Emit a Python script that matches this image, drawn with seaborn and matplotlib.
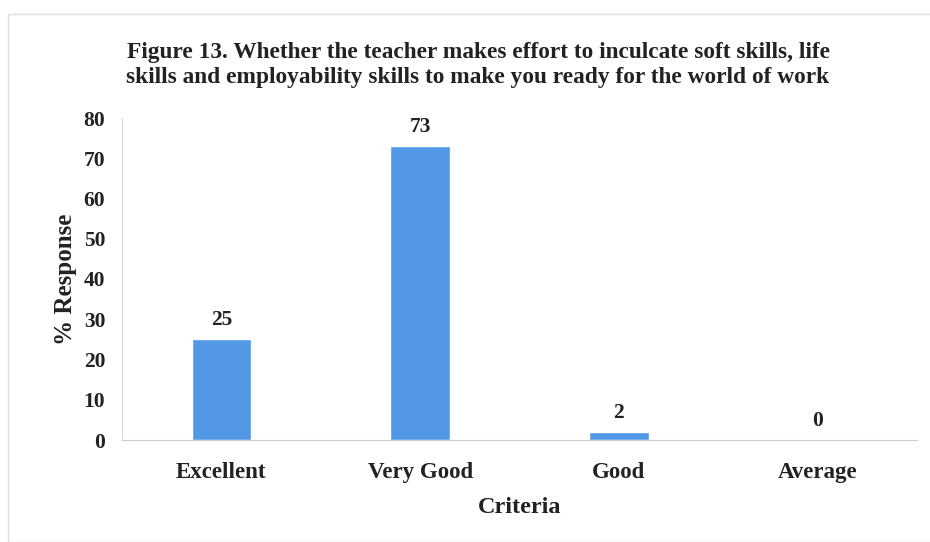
import matplotlib
matplotlib.use("Agg")
import matplotlib.pyplot as plt
import seaborn as sns
import pandas as pd
from matplotlib.patches import Rectangle

categories = ["Excellent", "Very Good", "Good", "Average"]
values = [25, 73, 2, 0]
yticks = [0, 10, 20, 30, 40, 50, 60, 70, 80]

sns.set_theme(style="white")
plt.rcParams['font.family'] = ['Liberation Serif', 'DejaVu Serif']
plt.rcParams['font.weight'] = 'bold'

df = pd.DataFrame({"Criteria": categories, "Response": values})

fig = plt.figure(figsize=(9.3, 5.42), dpi=100)
ax = fig.add_axes([122/930, 1 - 440/542, 795/930, (440 - 118)/542])

sns.barplot(data=df, x="Criteria", y="Response", color="#5398E6",
            width=0.3, saturation=1, ax=ax)

ax.set_ylim(0, 80)
ax.set_yticks(yticks)
ax.set_yticklabels([str(t) for t in yticks], fontsize=15.5, fontweight='bold', color='#222222')
ax.set_xticks(range(len(categories)))
ax.set_xticklabels(categories, fontsize=16.5, fontweight='bold', color='#222222')
ax.tick_params(axis='y', length=0, pad=12)
ax.tick_params(axis='x', length=0, pad=16)

ax.set_xlabel("Criteria", fontsize=17.5, fontweight='bold', color='#222222', labelpad=10)
ax.set_ylabel("% Response", fontsize=18, fontweight='bold', color='#222222', labelpad=5)

for i, v in enumerate(values):
    ax.annotate(str(v), (i, v), xytext=(0, 14), textcoords='offset points',
                ha='center', va='center', fontsize=15.5,
                fontweight='bold', color='#222222')

for s in ['top', 'right']:
    ax.spines[s].set_visible(False)
ax.spines['left'].set_color('#dddddd')
ax.spines['bottom'].set_color('#cccccc')
ax.spines['left'].set_linewidth(0.8)
ax.spines['bottom'].set_linewidth(0.8)

fig.text(478/930, 1 - 65/542,
         "Figure 13. Whether the teacher makes effort to inculcate soft skills, life\n"
         "skills and employability skills to make you ready for the world of work",
         ha='center', va='center', fontsize=16.8, fontweight='bold', color='#222222',
         linespacing=1.2)

fig.patches.append(Rectangle((8/930, 0), 1.0, 1 - 14/542, transform=fig.transFigure,
                             fill=False, edgecolor='#dddddd', linewidth=1))

fig.savefig("out.png", dpi=100)
